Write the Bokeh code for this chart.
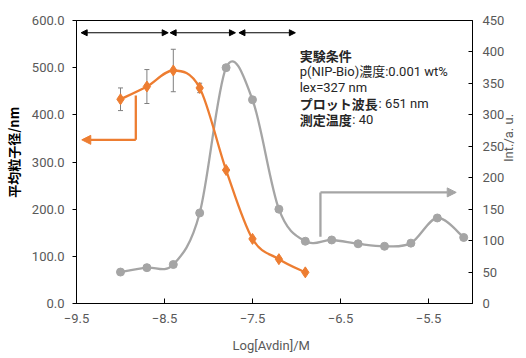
import math
from bokeh.plotting import figure
from bokeh.models import (Range1d, LinearAxis, FixedTicker, NumeralTickFormatter, Whisker,
                          ColumnDataSource, Arrow, NormalHead, TeeHead, Label)
from bokeh.embed import file_html
from bokeh.resources import INLINE

# ---------------- data ----------------
x_size = [-9.0, -8.7, -8.4, -8.1, -7.8, -7.5, -7.2, -6.9]
size_nm = [433, 460, 494, 457, 283, 137, 94, 66]
size_err = [24, 36, 45, 10, 0, 0, 0, 0]

x_int = [-9.0, -8.7, -8.4, -8.1, -7.8, -7.5, -7.2, -6.9, -6.6, -6.3, -6.0, -5.7, -5.4, -5.1]
intensity = [50, 57, 62, 144, 375, 324, 150, 99, 101, 95, 91, 96, 136, 105]

x_ticks = [-9.5, -8.5, -7.5, -6.5, -5.5]
left_ticks = [0, 100, 200, 300, 400, 500, 600]
right_ticks = [0, 50, 100, 150, 200, 250, 300, 350, 400, 450]

info_lines = ["p(NIP-Bio)濃度:0.001 wt%", "lex=327 nm"]
info_title = "実験条件"
info_bold = ["プロット波長", "測定温度"]
info_vals = [": 651 nm", ": 40"]

x_title = "Log[Avdin]/M"
left_title = "平均粒子径/nm"
right_title = "Int./a. u."

ORANGE = "#ED7D31"
GRAY = "#A5A5A5"
TXT = "#595959"
LAT = "Roboto, 'Noto Sans CJK JP'"
JP = "'Noto Sans CJK JP'"

p = figure(width=526, height=358, output_backend="svg", toolbar_location=None,
           x_range=Range1d(-9.5, -5.0), y_range=Range1d(0, 600),
           min_border_left=76, min_border_right=50, min_border_top=20, min_border_bottom=55)
p.extra_y_ranges = {"int": Range1d(0, 450)}
p.xgrid.visible = False
p.ygrid.visible = False
p.outline_line_color = "black"
p.outline_line_width = 1
p.background_fill_color = "white"
p.border_fill_color = "white"

# axes
xa = p.xaxis[0]
xa.ticker = FixedTicker(ticks=x_ticks)
xa.major_tick_in = 5
xa.major_tick_out = 0
xa.minor_tick_line_color = None
xa.major_label_standoff = 10
xa.axis_label = x_title + "\u2002"
xa.axis_label_standoff = 12
ya = p.yaxis[0]
ya.ticker = FixedTicker(ticks=left_ticks)
ya.formatter = NumeralTickFormatter(format="0.0")
ya.major_tick_in = 0
ya.major_tick_out = 4
ya.minor_tick_line_color = None
ya.major_label_standoff = 8
ya.axis_label = "\u2003\u2002" + left_title
ya.axis_label_text_font = JP
ya.axis_label_text_font_style = "bold"
ya.axis_label_text_color = "black"
ya.axis_label_standoff = 6
ra = LinearAxis(y_range_name="int", ticker=FixedTicker(ticks=right_ticks))
ra.major_tick_in = 4
ra.major_tick_out = 0
ra.minor_tick_line_color = None
ra.major_label_standoff = 10
ra.axis_label = right_title
ra.axis_label_orientation = math.pi / 2
ra.axis_label_standoff = 1
p.add_layout(ra, "right")
for ax in (xa, ra):
    ax.axis_label_text_font = "Roboto"
    ax.axis_label_text_font_style = "normal"
    ax.axis_label_text_color = TXT
for ax in (xa, ya, ra):
    ax.axis_label_text_font_size = "13px"
    ax.axis_line_color = "black"
    ax.major_tick_line_color = "black"
    ax.major_label_text_color = TXT
    ax.major_label_text_font = "Roboto"
    ax.major_label_text_font_size = "13px"


def bez(xs, ys):
    n = len(xs)
    d = dict(x0=[], y0=[], x1=[], y1=[], cx0=[], cy0=[], cx1=[], cy1=[])
    for i in range(n - 1):
        a = i - 1 if i > 0 else i
        b = i + 2 if i + 2 < n else i + 1
        d["x0"].append(xs[i]); d["y0"].append(ys[i])
        d["x1"].append(xs[i + 1]); d["y1"].append(ys[i + 1])
        d["cx0"].append(xs[i] + (xs[i + 1] - xs[a]) / 6)
        d["cy0"].append(ys[i] + (ys[i + 1] - ys[a]) / 6)
        d["cx1"].append(xs[i + 1] - (xs[b] - xs[i]) / 6)
        d["cy1"].append(ys[i + 1] - (ys[b] - ys[i]) / 6)
    return ColumnDataSource(d)


# gray intensity series (right axis)
p.bezier(x0="x0", y0="y0", x1="x1", y1="y1", cx0="cx0", cy0="cy0", cx1="cx1", cy1="cy1",
         source=bez(x_int, intensity), line_color=GRAY, line_width=2.3, y_range_name="int")
p.scatter(x_int, intensity, marker="circle", size=8, fill_color=GRAY, line_color=GRAY,
          y_range_name="int")

# error bars
ex = [x for x, e in zip(x_size, size_err) if e]
ey = [y for y, e in zip(size_nm, size_err) if e]
ee = [e for e in size_err if e]
wsrc = ColumnDataSource(dict(x=ex, up=[y + e for y, e in zip(ey, ee)], lo=[y - e for y, e in zip(ey, ee)]))
p.add_layout(Whisker(base="x", upper="up", lower="lo", source=wsrc, line_color="#7F7F7F", line_width=1,
                     upper_head=TeeHead(size=5, line_color="#7F7F7F"),
                     lower_head=TeeHead(size=5, line_color="#7F7F7F")))

# orange size series (left axis)
p.bezier(x0="x0", y0="y0", x1="x1", y1="y1", cx0="cx0", cy0="cy0", cx1="cx1", cy1="cy1",
         source=bez(x_size, size_nm), line_color=ORANGE, line_width=2.3)
p.scatter(x_size, size_nm, marker="diamond", size=11, fill_color=ORANGE, line_color=ORANGE)

# annotation arrows
top_y = 574
for xa0, xa1 in [(-9.447, -8.458), (-8.436, -7.694), (-7.654, -7.013)]:
    p.add_layout(Arrow(x_start=xa0, y_start=top_y, x_end=xa1, y_end=top_y, line_color="black", line_width=1,
                       start=NormalHead(size=6, fill_color="black", line_color="black"),
                       end=NormalHead(size=6, fill_color="black", line_color="black")))
p.line([-8.826, -8.826], [441, 347], line_color=ORANGE, line_width=2.3)
p.add_layout(Arrow(x_start=-8.826, y_start=347, x_end=-9.44, y_end=347, line_color=ORANGE, line_width=2.3,
                   end=NormalHead(size=9, fill_color=ORANGE, line_color=ORANGE)))
p.line([-6.728, -6.728], [141.5, 235.6], line_color=GRAY, line_width=2.3)
p.add_layout(Arrow(x_start=-6.728, y_start=235.6, x_end=-5.185, y_end=235.6, line_color=GRAY, line_width=2.3,
                   end=NormalHead(size=9, fill_color=GRAY, line_color=GRAY)))

# info text block
tx = -6.964
p.add_layout(Label(x=tx, y=525, text=info_title, text_font=JP, text_font_style="bold",
                   text_font_size="13px", text_color="#262626", text_baseline="middle"))
for yy, t in zip([491, 457], info_lines):
    p.add_layout(Label(x=tx, y=yy, text=t, text_font=LAT, text_font_size="13px",
                       text_color="#262626", text_baseline="middle"))
for yy, b, v in zip([423, 390], info_bold, info_vals):
    p.add_layout(Label(x=tx, y=yy, text=b, text_font=JP, text_font_style="bold", text_font_size="13px",
                       text_color="#262626", text_baseline="middle"))
    p.add_layout(Label(x=tx + len(b) * 13.3 / 89.0, y=yy, text=v, text_font=LAT, text_font_size="13px",
                       text_color="#262626", text_baseline="middle"))

open("out.html", "w").write(file_html(p, INLINE))
